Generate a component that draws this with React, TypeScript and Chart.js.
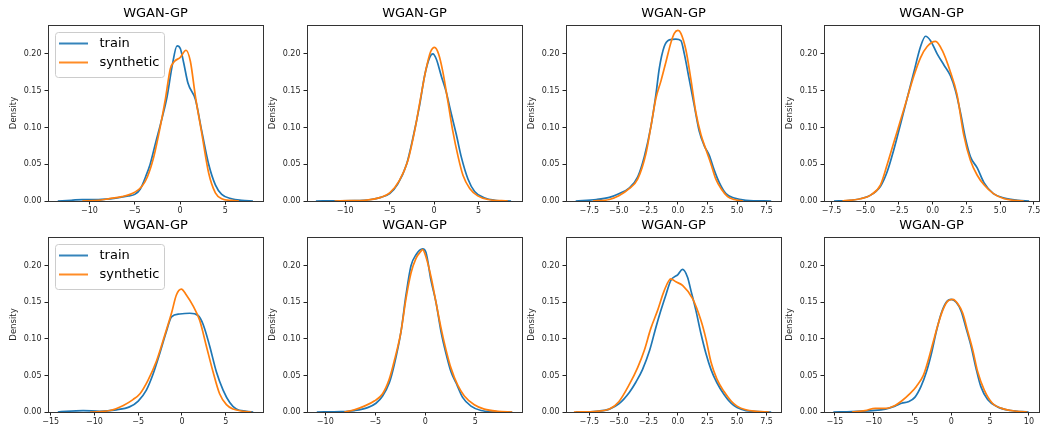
import React, { useEffect, useRef } from 'react';
import { Chart, registerables } from 'chart.js';

Chart.register(...registerables);
Chart.defaults.font.family = 'DejaVu Sans';

type Pt = [number, number];

// ---------- data ----------
const panelTitles = ['WGAN-GP', 'WGAN-GP', 'WGAN-GP', 'WGAN-GP', 'WGAN-GP', 'WGAN-GP', 'WGAN-GP', 'WGAN-GP'];
const seriesLabels = ['train', 'synthetic'];
const yLabel = 'Density';

const train1: Pt[] = [[-13.5, 0], [-12, 0.001], [-10.8, 0.002], [-9, 0.002], [-7.1, 0.004], [-5.7, 0.007], [-5, 0.009], [-4.4, 0.016], [-3.8, 0.033], [-3.3, 0.05], [-2.7, 0.079], [-2.0, 0.112], [-1.43, 0.142], [-0.88, 0.183], [-0.33, 0.211], [0.04, 0.207], [0.4, 0.188], [0.88, 0.16], [1.7, 0.138], [2.4, 0.095], [3.16, 0.05], [3.9, 0.022], [4.6, 0.009], [5.7, 0.003], [6.8, 0.001], [8.05, 0]];
const synth1: Pt[] = [[-10.8, 0], [-9, 0.001], [-7.9, 0.003], [-6.4, 0.006], [-5, 0.012], [-4.2, 0.02], [-3.6, 0.033], [-2.9, 0.06], [-2.2, 0.1], [-1.6, 0.14], [-1.07, 0.18], [-0.6, 0.19], [0.0, 0.195], [0.66, 0.205], [1.14, 0.19], [1.7, 0.142], [2.4, 0.092], [3.16, 0.038], [3.9, 0.011], [4.6, 0.003], [5.7, 0.0008], [6.5, 0]];

const train2: Pt[] = [[-13.3, 0], [-11, 0.0003], [-9, 0.0005], [-7.1, 0.002], [-6, 0.005], [-5, 0.01], [-4.1, 0.023], [-3.1, 0.05], [-2.4, 0.085], [-1.64, 0.13], [-1.08, 0.17], [-0.51, 0.195], [-0.14, 0.2], [0.24, 0.193], [0.8, 0.17], [1.36, 0.148], [1.9, 0.12], [2.5, 0.09], [3.05, 0.06], [3.8, 0.03], [4.55, 0.013], [5.7, 0.004], [6.8, 0.001], [8.65, 0]];
const synth2: Pt[] = [[-11.2, 0], [-9.5, 0.0005], [-7.8, 0.001], [-6, 0.005], [-5, 0.011], [-3.9, 0.028], [-2.95, 0.055], [-2.2, 0.095], [-1.45, 0.145], [-0.9, 0.18], [-0.4, 0.203], [0.05, 0.209], [0.5, 0.2], [0.99, 0.175], [1.55, 0.135], [2.1, 0.095], [2.7, 0.06], [3.24, 0.035], [4.0, 0.017], [4.9, 0.007], [6.05, 0.002], [8.3, 0]];

const train3: Pt[] = [[-8.65, 0], [-6.9, 0.002], [-5.8, 0.005], [-5.0, 0.01], [-4.1, 0.018], [-3.4, 0.033], [-2.85, 0.06], [-2.3, 0.1], [-1.86, 0.145], [-1.58, 0.18], [-1.16, 0.21], [-0.73, 0.219], [-0.17, 0.22], [0.25, 0.218], [0.54, 0.2], [0.96, 0.165], [1.38, 0.13], [1.8, 0.095], [2.23, 0.075], [2.65, 0.062], [3.07, 0.042], [3.5, 0.025], [4.06, 0.01], [4.76, 0.004], [5.75, 0.001], [7.89, 0]];
const synth3: Pt[] = [[-7.2, 0], [-5.8, 0.002], [-5.0, 0.007], [-4.1, 0.017], [-3.4, 0.03], [-2.7, 0.065], [-2.3, 0.1], [-1.86, 0.14], [-1.44, 0.163], [-1.0, 0.19], [-0.6, 0.215], [-0.31, 0.228], [0, 0.232], [0.25, 0.228], [0.68, 0.205], [1.1, 0.165], [1.52, 0.12], [1.95, 0.09], [2.37, 0.07], [2.8, 0.05], [3.2, 0.03], [3.64, 0.017], [4.2, 0.006], [4.76, 0.002], [5.5, 0]];

const train4: Pt[] = [[-7.32, 0], [-6.1, 0.001], [-4.6, 0.008], [-3.87, 0.02], [-3.37, 0.04], [-2.88, 0.07], [-2.38, 0.105], [-1.89, 0.14], [-1.4, 0.175], [-0.9, 0.21], [-0.53, 0.224], [-0.16, 0.218], [0.33, 0.2], [0.83, 0.185], [1.32, 0.17], [1.69, 0.15], [2.06, 0.12], [2.43, 0.085], [2.8, 0.06], [3.3, 0.045], [3.8, 0.025], [4.5, 0.01], [5.3, 0.004], [6.3, 0.001], [7.15, 0]];
const synth4: Pt[] = [[-6.7, 0], [-5.35, 0.003], [-4.6, 0.008], [-3.87, 0.022], [-3.37, 0.05], [-2.88, 0.08], [-2.38, 0.11], [-1.89, 0.14], [-1.4, 0.17], [-0.9, 0.195], [-0.41, 0.21], [0.21, 0.217], [0.7, 0.205], [1.32, 0.175], [1.8, 0.145], [2.3, 0.09], [2.8, 0.055], [3.3, 0.035], [3.8, 0.022], [4.5, 0.01], [5.3, 0.003], [6.75, 0]];

const train5: Pt[] = [[-14.19, 0], [-11.3, 0.002], [-9.4, 0.001], [-7.5, 0.003], [-6.0, 0.007], [-5.0, 0.015], [-4.07, 0.03], [-3.3, 0.052], [-2.54, 0.08], [-1.78, 0.11], [-1.2, 0.13], [-0.26, 0.134], [0.89, 0.135], [1.84, 0.132], [2.41, 0.12], [3.17, 0.09], [3.93, 0.055], [4.7, 0.03], [5.46, 0.013], [6.2, 0.004], [7.36, 0.001], [8.14, 0]];
const synth5: Pt[] = [[-10.5, 0], [-8.25, 0.002], [-6.7, 0.009], [-5.6, 0.017], [-4.8, 0.025], [-3.9, 0.043], [-2.9, 0.07], [-1.97, 0.105], [-1.2, 0.135], [-0.64, 0.16], [-0.07, 0.168], [0.5, 0.16], [1.27, 0.145], [2.03, 0.125], [2.79, 0.09], [3.55, 0.055], [4.3, 0.025], [5.08, 0.01], [5.84, 0.004], [7.0, 0.001], [7.93, 0]];

const train6: Pt[] = [[-10.85, 0], [-8.43, 0.0005], [-7.1, 0.002], [-5.77, 0.006], [-4.93, 0.012], [-4.27, 0.022], [-3.6, 0.04], [-3.1, 0.065], [-2.43, 0.11], [-1.93, 0.16], [-1.43, 0.2], [-0.93, 0.215], [-0.27, 0.223], [0.07, 0.218], [0.57, 0.18], [1.07, 0.15], [1.57, 0.11], [2.07, 0.08], [2.57, 0.055], [3.07, 0.04], [3.73, 0.02], [4.57, 0.008], [5.57, 0.002], [6.9, 0.0005], [8.69, 0]];
const synth6: Pt[] = [[-8.1, 0], [-7.1, 0.003], [-6.1, 0.008], [-5.1, 0.015], [-4.27, 0.025], [-3.6, 0.045], [-3.1, 0.07], [-2.43, 0.11], [-1.93, 0.155], [-1.43, 0.19], [-0.93, 0.21], [-0.43, 0.22], [-0.27, 0.222], [0.07, 0.212], [0.57, 0.185], [1.07, 0.15], [1.57, 0.115], [2.07, 0.085], [2.57, 0.06], [3.23, 0.037], [3.9, 0.022], [4.9, 0.01], [5.9, 0.004], [7.23, 0.001], [8.69, 0]];

const train7: Pt[] = [[-8.65, 0], [-6.9, 0.001], [-5.8, 0.004], [-5.0, 0.011], [-4.1, 0.027], [-3.55, 0.041], [-3.0, 0.058], [-2.4, 0.084], [-1.86, 0.116], [-1.44, 0.139], [-1.0, 0.161], [-0.6, 0.18], [0, 0.188], [0.39, 0.195], [0.82, 0.184], [1.1, 0.166], [1.52, 0.139], [1.95, 0.107], [2.37, 0.08], [2.8, 0.058], [3.3, 0.04], [3.9, 0.024], [4.5, 0.012], [5.0, 0.006], [5.75, 0.002], [7.89, 0]];
const synth7: Pt[] = [[-8.8, 0], [-6.9, 0.001], [-5.8, 0.004], [-5.0, 0.014], [-4.1, 0.038], [-3.4, 0.061], [-2.85, 0.084], [-2.3, 0.114], [-1.72, 0.139], [-1.16, 0.166], [-0.6, 0.182], [-0.17, 0.178], [0.39, 0.173], [1.24, 0.155], [1.95, 0.125], [2.37, 0.1], [2.8, 0.068], [3.3, 0.045], [3.9, 0.028], [4.5, 0.015], [5.0, 0.008], [5.75, 0.003], [6.6, 0.001], [7.73, 0]];

const train8: Pt[] = [[-15.2, 0], [-12.8, 0.0005], [-10.2, 0.002], [-8.5, 0.004], [-7.25, 0.008], [-6.4, 0.012], [-5.55, 0.014], [-4.7, 0.02], [-3.9, 0.035], [-3.2, 0.055], [-2.56, 0.08], [-1.93, 0.11], [-1.29, 0.135], [-0.65, 0.15], [0, 0.154], [0.63, 0.15], [1.27, 0.138], [1.9, 0.115], [2.55, 0.09], [3.18, 0.06], [3.8, 0.035], [4.68, 0.017], [5.95, 0.007], [7.66, 0.002], [9.96, 0]];
const synth8: Pt[] = [[-12.8, 0], [-11.1, 0.002], [-9.8, 0.005], [-8.5, 0.005], [-7.25, 0.009], [-6.4, 0.015], [-5.33, 0.025], [-4.5, 0.035], [-3.6, 0.05], [-2.99, 0.07], [-2.35, 0.095], [-1.7, 0.12], [-1.07, 0.14], [-0.43, 0.152], [0.2, 0.154], [0.84, 0.148], [1.48, 0.135], [2.12, 0.11], [2.76, 0.085], [3.4, 0.055], [4.25, 0.03], [5.3, 0.012], [6.8, 0.004], [8.5, 0.001], [9.8, 0]];

const trainSeries = [train1, train2, train3, train4, train5, train6, train7, train8];
const synthSeries = [synth1, synth2, synth3, synth4, synth5, synth6, synth7, synth8];

const xMin = [-14.58, -14.3, -9.47, -8.06, -15.31, -11.83, -9.47, -16.4];
const xMax = [9.16, 9.88, 8.72, 7.88, 9.26, 9.67, 8.72, 11.3];
const xStep = [5, 5, 2.5, 2.5, 5, 5, 2.5, 5];
const yMax = 0.2393;
const yStep = 0.05;
const legendPanels = [0, 4];

// ---------- layout / style ----------
const COLORS = ['#1f77b4', '#ff7f0e'];
const AXIS_W = 48;
const TITLE_H = 25;
const PLOT_W = 215;
const BOX_LEFT = [48, 307, 566, 824];
const RIGHT_PAD = 8;
const ROW_TOP = [0, 212];
const PLOT_H = [176, 175];
const CANVAS_H = [221, 218];
const CANVAS_W = AXIS_W + PLOT_W + RIGHT_PAD;
const TEXT = '#262626';

const fmt = (v: number, d: number) => (v < -1e-9 ? '\u2212' : '') + Math.abs(v).toFixed(d);

function makeHandle(color: string): HTMLCanvasElement {
  const c = document.createElement('canvas');
  c.width = 34;
  c.height = 4;
  const g = c.getContext('2d')!;
  g.strokeStyle = color;
  g.lineWidth = 1.8;
  g.beginPath();
  g.moveTo(0, 2);
  g.lineTo(29, 2);
  g.stroke();
  return c;
}

const panelPlugin = {
  id: 'panelDecor',
  afterLayout(chart: any) {
    const lg = chart.legend;
    if (lg && chart.options.plugins.legend.display) {
      const a = chart.chartArea;
      const hgt = lg.height;
      lg.left = a.left + 5;
      lg.top = a.top + 6;
      lg.bottom = lg.top + hgt;
    }
  },
  beforeDraw(chart: any) {
    const lg = chart.legend;
    if (!lg || !chart.options.plugins.legend.display) return;
    const hbs = lg.legendHitBoxes || [];
    if (!hbs.length) return;
    const x0 = hbs[0].left - 3.6;
    const y0 = hbs[0].top - 5.3;
    let right = 0;
    let bottom = 0;
    for (const hb of hbs) {
      right = Math.max(right, hb.left + hb.width);
      bottom = Math.max(bottom, hb.top + hb.height);
    }
    const x1 = right + 5.5;
    const y1 = bottom + 7.2;
    const ctx = chart.ctx;
    ctx.save();
    ctx.beginPath();
    const rx = Math.round(x0) + 0.5;
    const ry = Math.round(y0) + 0.5;
    const rw = Math.round(x1 - x0);
    const rh = Math.round(y1 - y0);
    if (ctx.roundRect) ctx.roundRect(rx, ry, rw, rh, 3);
    else ctx.rect(rx, ry, rw, rh);
    ctx.fillStyle = 'rgba(255,255,255,0.8)';
    ctx.fill();
    ctx.strokeStyle = '#cccccc';
    ctx.lineWidth = 1;
    ctx.stroke();
    ctx.restore();
  },
  afterDatasetsDraw(chart: any) {
    const a = chart.chartArea;
    const ctx = chart.ctx;
    ctx.save();
    ctx.strokeStyle = '#333333';
    ctx.lineWidth = 1;
    const l = Math.round(a.left) + 0.5;
    const t = Math.round(a.top) + 0.5;
    const r = Math.round(a.right) + 0.5;
    const b = Math.round(a.bottom) + 0.5;
    ctx.strokeRect(l, t, r - l, b - t);
    ctx.restore();
  },
};

function Panel({ idx }: { idx: number }) {
  const ref = useRef<HTMLCanvasElement>(null);
  const row = Math.floor(idx / 4);
  const col = idx % 4;
  const h = CANVAS_H[row];
  const plotH = PLOT_H[row];

  useEffect(() => {
    const canvas = ref.current;
    if (!canvas) return;
    const showLegend = legendPanels.includes(idx);
    const handles = COLORS.map(makeHandle);
    const dec = xStep[idx] % 1 === 0 ? 0 : 1;
    const series = [trainSeries[idx], synthSeries[idx]];
    const chart = new Chart(canvas, {
      type: 'line',
      data: {
        datasets: series.map((s, i) => ({
          label: seriesLabels[i],
          data: s.map(([x, y]) => ({ x, y })),
          borderColor: COLORS[i],
          backgroundColor: COLORS[i],
          borderWidth: 1.7,
          pointRadius: 0,
          pointHoverRadius: 0,
          fill: false,
          cubicInterpolationMode: 'monotone',
          order: 2 - i,
        })),
      },
      options: {
        responsive: false,
        animation: false,
        devicePixelRatio: 1,
        events: [],
        layout: { padding: { left: 0, top: 0, right: RIGHT_PAD, bottom: 0 } },
        scales: {
          x: {
            type: 'linear',
            min: xMin[idx],
            max: xMax[idx],
            afterFit: (s: any) => {
              s.height = h - TITLE_H - plotH;
              s.paddingLeft = 0;
              s.paddingRight = 0;
            },
            grid: { display: true, drawOnChartArea: false, drawTicks: true, tickLength: 3.5, color: '#222', tickWidth: 1 },
            border: { display: false },
            ticks: {
              stepSize: xStep[idx],
              includeBounds: false,
              autoSkip: false,
              maxRotation: 0,
              padding: 1.5,
              color: TEXT,
              font: { size: 8, family: 'DejaVu Sans' },
              callback: (v: any) => fmt(Number(v), dec),
            },
          },
          y: {
            type: 'linear',
            min: 0,
            max: yMax,
            afterFit: (s: any) => {
              s.width = AXIS_W;
              s.paddingTop = 0;
              s.paddingBottom = 0;
            },
            grid: { display: true, drawOnChartArea: false, drawTicks: true, tickLength: 3.5, color: '#222', tickWidth: 1 },
            border: { display: false },
            title: {
              display: true,
              text: yLabel,
              color: TEXT,
              font: { size: 8.5, family: 'DejaVu Sans' },
              padding: { top: 8.5, bottom: 0 },
            },
            ticks: {
              stepSize: yStep,
              includeBounds: false,
              padding: 3,
              color: TEXT,
              font: { size: 8, family: 'DejaVu Sans' },
              callback: (v: any) => Number(v).toFixed(2),
            },
          },
        },
        plugins: {
          title: {
            display: true,
            fullSize: false,
            text: panelTitles[idx],
            color: '#000',
            font: { size: 13, family: 'DejaVu Sans', weight: 'normal', lineHeight: 1.2 },
            padding: { top: 5.7, bottom: 3.7 },
          },
          legend: {
            display: showLegend,
            position: 'chartArea',
            align: 'start',
            labels: {
              usePointStyle: true,
              pointStyleWidth: 34,
              padding: 6,
              color: '#000',
              font: { size: 13, family: 'DejaVu Sans' },
              generateLabels: (c: any) =>
                c.data.datasets.map((ds: any, i: number) => ({
                  text: ds.label,
                  fillStyle: ds.borderColor,
                  strokeStyle: ds.borderColor,
                  fontColor: '#000',
                  lineWidth: 0,
                  pointStyle: handles[i],
                  hidden: false,
                  datasetIndex: i,
                })),
            },
          },
          tooltip: { enabled: false },
        },
      } as any,
      plugins: [panelPlugin as any],
    });
    return () => chart.destroy();
  }, [idx]);

  return (
    <canvas
      ref={ref}
      width={CANVAS_W}
      height={h}
      style={{ position: 'absolute', left: BOX_LEFT[col] - AXIS_W, top: ROW_TOP[row], width: CANVAS_W, height: h, display: 'block' }}
    />
  );
}

export default function App() {
  return (
    <div style={{ position: 'absolute', left: 0, top: 0, width: 1041, height: 430, overflow: 'hidden', background: '#ffffff' }}>
      {panelTitles.map((_, i) => (
        <Panel key={i} idx={i} />
      ))}
    </div>
  );
}
